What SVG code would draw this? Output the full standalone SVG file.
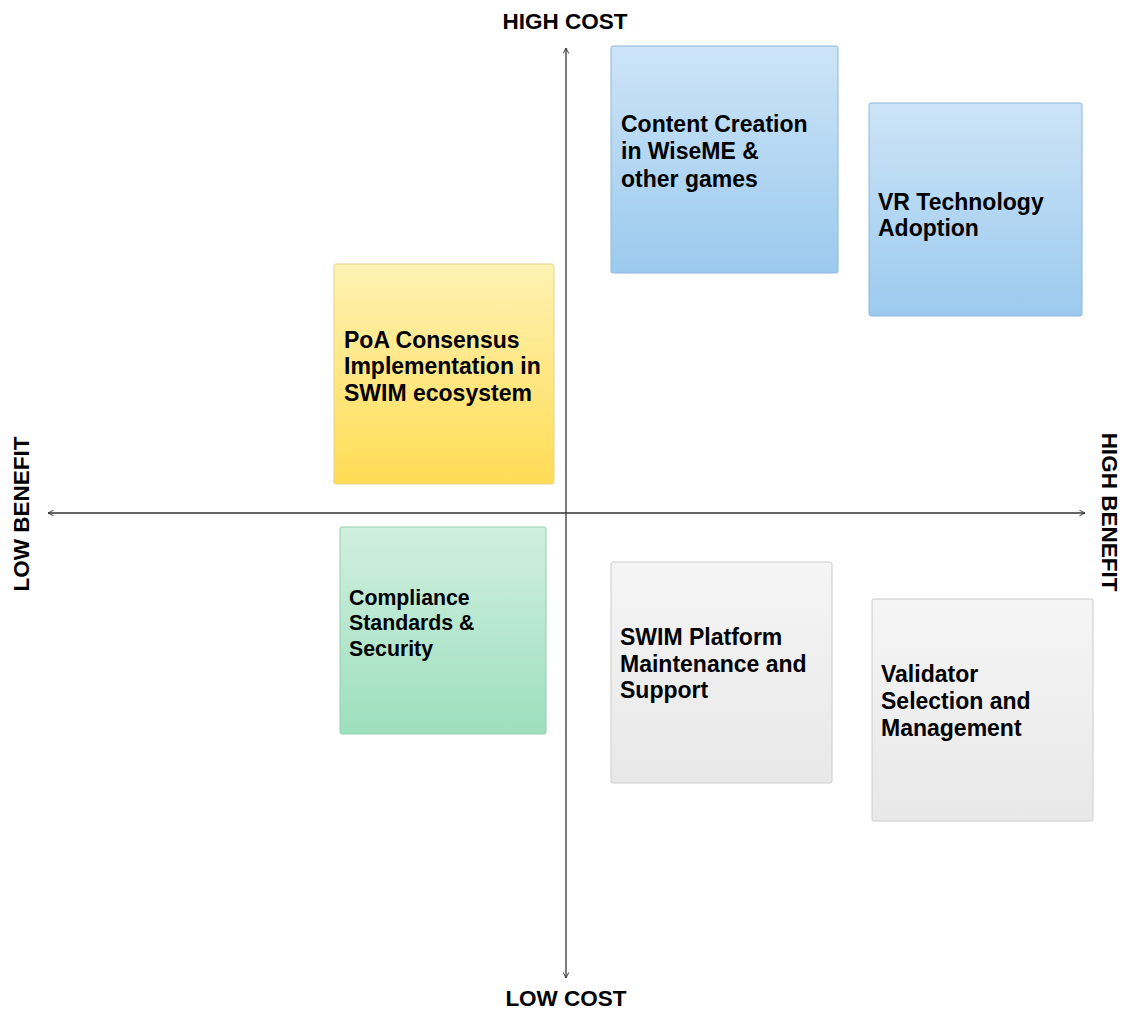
<svg xmlns="http://www.w3.org/2000/svg" width="1125" height="1010" viewBox="0 0 1125 1010">
<style>
.lbl{font-family:"Liberation Sans",Arial,sans-serif;font-weight:bold;font-size:23px;fill:#000}
.ax{font-family:"Liberation Sans",Arial,sans-serif;font-weight:bold;font-size:22.5px;fill:#000}
.axis{stroke:#333;stroke-width:1.3;fill:none}
</style>
<defs>
<linearGradient id="gBlue" x1="0" y1="0" x2="0" y2="1"><stop offset="0" stop-color="#cde4f7"/><stop offset="1" stop-color="#9bcaee"/></linearGradient>
<linearGradient id="gYel" x1="0" y1="0" x2="0" y2="1"><stop offset="0" stop-color="#fff2b3"/><stop offset="1" stop-color="#ffdc55"/></linearGradient>
<linearGradient id="gGrn" x1="0" y1="0" x2="0" y2="1"><stop offset="0" stop-color="#d0efdf"/><stop offset="1" stop-color="#9ddfbd"/></linearGradient>
<linearGradient id="gGry" x1="0" y1="0" x2="0" y2="1"><stop offset="0" stop-color="#f5f5f5"/><stop offset="1" stop-color="#e8e8e8"/></linearGradient>
<marker id="arr" viewBox="0 0 10 10" refX="9" refY="5" markerWidth="7" markerHeight="7" orient="auto-start-reverse" markerUnits="userSpaceOnUse"><path d="M1,1 L9,5 L1,9" fill="none" stroke="#333" stroke-width="1.3"/></marker>
</defs>
<g id="connectors">
<line class="axis" x1="566" y1="978" x2="566" y2="48" marker-end="url(#arr)" marker-start="url(#arr)"/>
<line class="axis" x1="48" y1="513" x2="1085" y2="513" marker-end="url(#arr)" marker-start="url(#arr)"/>
</g>
<g id="axis-labels">
<text class="ax" x="565" y="29" text-anchor="middle">HIGH COST</text>
<text class="ax" x="566" y="1006" text-anchor="middle">LOW COST</text>
<text class="ax" transform="translate(29,514) rotate(-90)" text-anchor="middle">LOW BENEFIT</text>
<text class="ax" transform="translate(1102,512) rotate(90)" text-anchor="middle">HIGH BENEFIT</text>
</g>
<g id="content-creation">
<rect x="611" y="46" width="227" height="227" rx="2" fill="url(#gBlue)" stroke="#8cb8dc" stroke-width="1"/>
<text class="lbl" x="621" y="132">Content Creation</text>
<text class="lbl" x="621" y="159">in WiseME &amp;</text>
<text class="lbl" x="621" y="187">other games</text>
</g>
<g id="vr-technology">
<rect x="869" y="103" width="213" height="213" rx="2" fill="url(#gBlue)" stroke="#8cb8dc" stroke-width="1"/>
<text class="lbl" x="878" y="210">VR Technology</text>
<text class="lbl" x="878" y="236">Adoption</text>
</g>
<g id="poa-consensus">
<rect x="334" y="264" width="220" height="220" rx="2" fill="url(#gYel)" stroke="#e6d28a" stroke-width="1"/>
<text class="lbl" x="344" y="348">PoA Consensus</text>
<text class="lbl" x="344" y="374">Implementation in</text>
<text class="lbl" x="344" y="401">SWIM ecosystem</text>
</g>
<g id="compliance">
<rect x="340" y="527" width="206" height="207" rx="2" fill="url(#gGrn)" stroke="#93cfb0" stroke-width="1"/>
<text class="lbl" x="349" y="605" style="font-size:21.3px">Compliance</text>
<text class="lbl" x="349" y="630" style="font-size:21.3px">Standards &amp;</text>
<text class="lbl" x="349" y="656" style="font-size:21.3px">Security</text>
</g>
<g id="swim-platform">
<rect x="611" y="562" width="221" height="221" rx="2" fill="url(#gGry)" stroke="#cccccc" stroke-width="1"/>
<text class="lbl" x="620" y="645">SWIM Platform</text>
<text class="lbl" x="620" y="672">Maintenance and</text>
<text class="lbl" x="620" y="698">Support</text>
</g>
<g id="validator">
<rect x="872" y="599" width="221" height="222" rx="2" fill="url(#gGry)" stroke="#cccccc" stroke-width="1"/>
<text class="lbl" x="881" y="682">Validator</text>
<text class="lbl" x="881" y="709">Selection and</text>
<text class="lbl" x="881" y="736">Management</text>
</g>
</svg>
